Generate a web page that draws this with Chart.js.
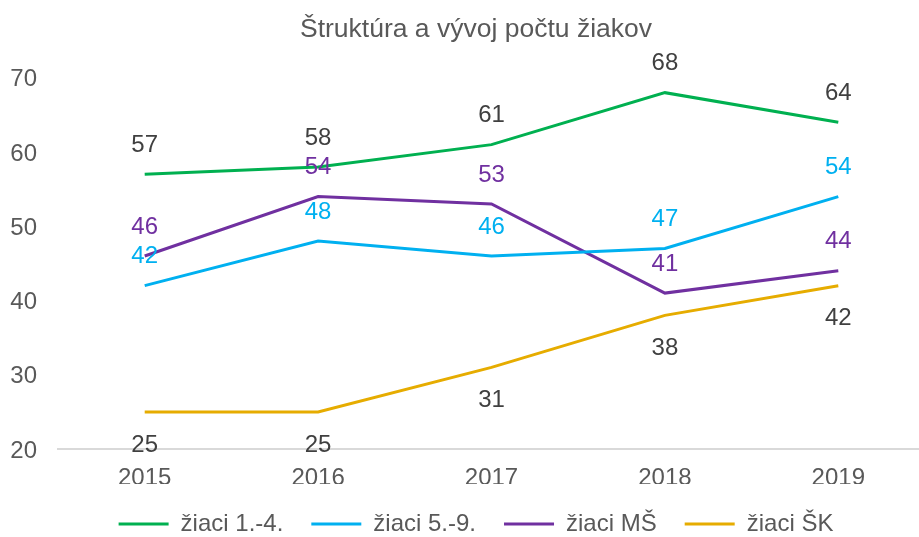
<!DOCTYPE html>
<html>
<head>
<meta charset="utf-8">
<script src="https://cdn.jsdelivr.net/npm/chart.js@4/dist/chart.umd.min.js"></script>
<style>
  html, body { margin: 0; padding: 0; overflow: hidden; background: #fff; width: 919px; height: 537px; }
  #wrap { position: absolute; left: 0; top: 0; width: 952px; height: 546px; }
</style>
</head>
<body>
<div id="wrap"><canvas id="c" width="952" height="546"></canvas></div>
<script>
const categories = ['2015', '2016', '2017', '2018', '2019'];
const ziaci14 = [57, 58, 61, 68, 64];
const ziaci59 = [42, 48, 46, 47, 54];
const ziaciMS = [46, 54, 53, 41, 44];
const ziaciSK = [25, 25, 31, 38, 42];
const seriesNames = ['žiaci 1.-4.', 'žiaci 5.-9.', 'žiaci MŠ', 'žiaci ŠK'];
const yTicks = [20, 30, 40, 50, 60, 70];

const FONT = '"Liberation Sans", Arial, sans-serif';
const GRAY = '#595959';

const labelPlugin = {
  id: 'dataLabels',
  afterDatasetsDraw(chart) {
    const ctx = chart.ctx;
    ctx.save();
    ctx.font = '24px ' + FONT;
    ctx.textAlign = 'center';
    ctx.textBaseline = 'middle';
    chart.data.datasets.forEach((ds, i) => {
      const meta = chart.getDatasetMeta(i);
      meta.data.forEach((pt, j) => {
        const off = ds.labelPos === 'below' ? 33 : -29;
        ctx.fillStyle = ds.labelColor;
        ctx.fillText(String(ds.data[j]), pt.x, pt.y + off);
      });
    });
    ctx.restore();
  }
};

function mk(label, data, color, labelColor, labelPos) {
  return {
    label, data,
    borderColor: color, backgroundColor: color,
    borderWidth: 3, pointRadius: 0, pointHoverRadius: 0, tension: 0,
    labelColor, labelPos
  };
}

new Chart(document.getElementById('c'), {
  type: 'line',
  data: {
    labels: categories,
    datasets: [
      mk(seriesNames[0], ziaci14, '#00B050', '#404040', 'above'),
      mk(seriesNames[1], ziaci59, '#00B0F0', '#00B0F0', 'above'),
      mk(seriesNames[2], ziaciMS, '#7030A0', '#7030A0', 'above'),
      mk(seriesNames[3], ziaciSK, '#E6AC00', '#404040', 'below')
    ]
  },
  options: {
    responsive: false,
    animation: false,
    events: [],
    layout: { padding: 0 },
    plugins: {
      title: {
        display: true,
        text: 'Štruktúra a vývoj počtu žiakov',
        color: GRAY,
        font: { family: FONT, size: 26.5, weight: 'normal' },
        padding: { top: 14, bottom: 32 }
      },
      legend: {
        display: true,
        position: 'bottom',
        labels: {
          usePointStyle: true,
          pointStyle: 'line',
          pointStyleWidth: 50,
          padding: 28,
          color: GRAY,
          font: { family: FONT, size: 24 }
        }
      },
      tooltip: { enabled: false }
    },
    scales: {
      x: {
        offset: true,
        grid: { display: false, drawTicks: false },
        border: { display: true, color: '#D9D9D9', width: 2 },
        ticks: { color: GRAY, font: { family: FONT, size: 24 }, padding: 15 },
        afterFit(s) { s.height = 35; }
      },
      y: {
        min: 20, max: 70,
        afterBuildTicks(s) { s.ticks = yTicks.map(v => ({ value: v })); },
        grid: { display: false, drawTicks: false },
        border: { display: false },
        ticks: { color: GRAY, font: { family: FONT, size: 24 }, padding: 21, labelOffset: 2 },
        afterFit(s) { s.width = 58; }
      },
      spacer: {
        type: 'linear',
        position: 'right',
        display: true,
        grid: { display: false, drawTicks: false },
        border: { display: false },
        ticks: { display: false },
        afterFit(s) { s.width = 27; }
      }
    }
  },
  plugins: [labelPlugin]
});
</script>
</body>
</html>
